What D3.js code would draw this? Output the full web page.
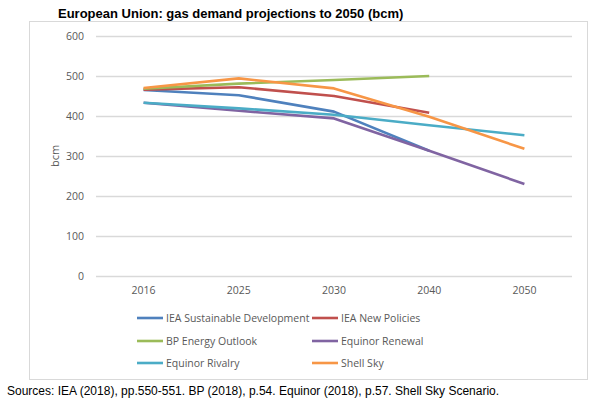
<!DOCTYPE html>
<html>
<head>
<meta charset="utf-8">
<script src="https://cdn.jsdelivr.net/npm/d3@7"></script>
<style>
body { margin: 0; background: #fff; }
</style>
</head>
<body>
<div id="chart"></div>
<script>
var years = ["2016", "2025", "2030", "2040", "2050"];
var yTicks = [0, 100, 200, 300, 400, 500, 600];

var seriesNames = ["IEA Sustainable Development", "IEA New Policies", "BP Energy Outlook",
    "Equinor Renewal", "Equinor Rivalry", "Shell Sky"];
var seriesColors = ["#4F81BD", "#C0504D", "#9BBB59", "#8064A2", "#4BACC6", "#F79646"];

// null = no value for that year
var ieaSustainable = [465, 452, 411, 313, null];
var ieaNewPolicies = [466, 472, 450, 408, null];
var bpOutlook = [468, 481, 490, 500, null];
var equinorRenewal = [433, 413, 394, 313, 230];
var equinorRivalry = [433, 419, 403, 377, 352];
var shellSky = [470, 494, 469, 398, 318];

var seriesValues = [ieaSustainable, ieaNewPolicies, bpOutlook, equinorRenewal, equinorRivalry, shellSky];

var totalWidth = 613, totalHeight = 406;
var plot = { left: 96, right: 572, top: 36, bottom: 276 };

var svg = d3.select("#chart").append("svg")
    .attr("width", totalWidth)
    .attr("height", totalHeight)
    .style("font-family", "Arial, 'Liberation Sans', sans-serif");

// chart box
svg.append("rect")
    .attr("x", 29.5).attr("y", 21.5)
    .attr("width", 558).attr("height", 358)
    .attr("fill", "#fff")
    .attr("stroke", "#d9d9d9")
    .attr("stroke-width", 1);

// title
svg.append("text")
    .attr("x", 58).attr("y", 18)
    .attr("font-size", "13px")
    .attr("font-weight", "bold")
    .attr("fill", "#000")
    .text("European Union: gas demand projections to 2050 (bcm)");

var xScale = d3.scaleBand()
    .domain(years)
    .range([plot.left, plot.right]);

var yScale = d3.scaleLinear()
    .domain([0, 600])
    .range([plot.bottom, plot.top]);

// gridlines + y labels
var axisLeft = d3.axisLeft(yScale)
    .tickValues(yTicks)
    .tickSize(-(plot.right - plot.left))
    .tickPadding(12);
var gy = svg.append("g")
    .attr("transform", "translate(" + plot.left + ",0)")
    .call(axisLeft);
gy.select(".domain").remove();
gy.selectAll(".tick line").attr("stroke", "#d9d9d9").attr("stroke-width", 1.3);
gy.selectAll(".tick text")
    .attr("fill", "#595959")
    .style("font-family", "'Open Sans', sans-serif")
    .style("font-size", "10.5px");

// x labels
var axisBottom = d3.axisBottom(xScale).tickSize(0).tickPadding(11);
var gx = svg.append("g")
    .attr("transform", "translate(0," + plot.bottom + ")")
    .call(axisBottom);
gx.select(".domain").remove();
gx.selectAll(".tick text")
    .attr("fill", "#595959")
    .style("font-family", "'Open Sans', sans-serif")
    .style("font-size", "10.5px");

// y axis title
svg.append("text")
    .attr("transform", "translate(59,156) rotate(-90)")
    .attr("text-anchor", "middle")
    .attr("fill", "#595959")
    .style("font-family", "'Open Sans', sans-serif")
    .style("font-size", "11px")
    .text("bcm");

// lines
var line = d3.line()
    .defined(function (d) { return d.v != null; })
    .x(function (d) { return xScale(d.year) + xScale.bandwidth() / 2; })
    .y(function (d) { return yScale(d.v); });

seriesValues.forEach(function (vals, i) {
    var pts = years.map(function (y, j) { return { year: y, v: vals[j] }; });
    svg.append("path")
        .datum(pts)
        .attr("d", line)
        .attr("fill", "none")
        .attr("stroke", seriesColors[i])
        .attr("stroke-width", 2.6)
        .attr("stroke-linejoin", "round");
});

// legend
var legendCols = [137, 312];
var legendRows = [318, 341, 363];
seriesNames.forEach(function (name, i) {
    var lx = legendCols[i % 2], ly = legendRows[Math.floor(i / 2)];
    svg.append("line")
        .attr("x1", lx).attr("x2", lx + 26)
        .attr("y1", ly).attr("y2", ly)
        .attr("stroke", seriesColors[i])
        .attr("stroke-width", 2.6);
    svg.append("text")
        .attr("x", lx + 29).attr("y", ly + 4)
        .attr("fill", "#595959")
        .style("font-family", "'Open Sans', sans-serif")
        .style("font-size", "10.5px")
        .text(name);
});

// source note
svg.append("text")
    .attr("x", 7).attr("y", 395)
    .attr("font-size", "12px")
    .attr("fill", "#000")
    .text("Sources: IEA (2018), pp.550-551. BP (2018), p.54. Equinor (2018), p.57. Shell Sky Scenario.");
</script>
</body>
</html>
